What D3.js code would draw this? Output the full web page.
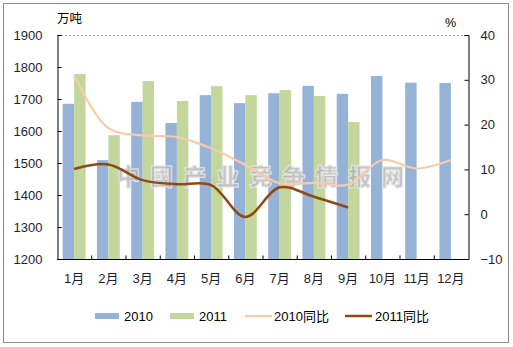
<!DOCTYPE html>
<html>
<head>
<meta charset="utf-8">
<script src="https://cdn.jsdelivr.net/npm/d3@7/dist/d3.min.js"></script>
<style>
  html, body { margin: 0; padding: 0; background: #fff; }
  svg { display: block; font-family: "Liberation Sans", Arial, "Noto Sans CJK SC", sans-serif; }
</style>
</head>
<body>
<script>
// Monthly output (万吨) and year-on-year growth (%)
const months = ["1月","2月","3月","4月","5月","6月","7月","8月","9月","10月","11月","12月"];
const output2010 = [1685, 1509, 1691, 1625, 1712, 1687, 1718, 1741, 1716, 1772, 1751, 1750];
const output2011 = [1778, 1587, 1756, 1694, 1740, 1712, 1728, 1709, 1628];
const yoy2010 = [31.0, 19.2, 17.6, 17.2, 14.7, 11.0, 6.9, 7.0, 6.6, 12.1, 10.2, 12.1];
const yoy2011 = [10.1, 11.1, 7.6, 6.7, 6.5, -0.6, 6.0, 3.9, 1.5];
const leftTicks = [1200, 1300, 1400, 1500, 1600, 1700, 1800, 1900];
const rightTicks = [-10, 0, 10, 20, 30, 40];
const seriesNames = ["2010", "2011", "2010同比", "2011同比"];

const W = 513, H = 347;
const M = { left: 57, right: 468, top: 35, bottom: 259 };
const colors = { b2010: "#95B3D7", b2011: "#C3D69B", l2010: "#F8CBAD", l2011: "#8E4A12" };

const svg = d3.select("body").append("svg").attr("width", W).attr("height", H);

// outer frame
svg.append("rect").attr("x", 3.5).attr("y", 3.5).attr("width", 505).attr("height", 339)
  .attr("fill", "#fff").attr("stroke", "#8c8c8c").attr("stroke-width", 1);

const x = d3.scaleBand().domain(months).range([M.left, M.right]).padding(0);
const xs = d3.scaleBand().domain(["2010", "2011"]).range([0, x.bandwidth()]).paddingInner(0).paddingOuter(0.5);
const yL = d3.scaleLinear().domain([1200, 1900]).range([M.bottom, M.top]);
const yR = d3.scaleLinear().domain([-10, 40]).range([M.bottom, M.top]);

// dashed top gridline
svg.append("line").attr("x1", M.left).attr("x2", M.right)
  .attr("y1", yL(1900) + 0.5).attr("y2", yL(1900) + 0.5)
  .attr("stroke", "#aaa").attr("stroke-dasharray", "2,2");

// bars
const bars = svg.append("g");
bars.selectAll("rect.b2010").data(output2010).join("rect")
  .attr("x", (d, i) => x(months[i]) + xs("2010"))
  .attr("width", xs.bandwidth())
  .attr("y", d => yL(d)).attr("height", d => yL(1200) - yL(d))
  .attr("fill", colors.b2010);
bars.selectAll("rect.b2011").data(output2011).join("rect")
  .attr("x", (d, i) => x(months[i]) + xs("2011"))
  .attr("width", xs.bandwidth())
  .attr("y", d => yL(d)).attr("height", d => yL(1200) - yL(d))
  .attr("fill", colors.b2011);

// watermark
svg.append("text").attr("x", 117).attr("y", 185)
  .attr("font-size", 23).attr("font-weight", "900")
  .attr("font-family", "'Noto Sans CJK SC', sans-serif")
  .attr("letter-spacing", 10)
  .attr("fill", "#b4b4b4").attr("fill-opacity", 0.8)
  .attr("stroke", "#e6e6e6").attr("stroke-width", 1)
  .text("中國产业竞争情报网");

// growth lines
const line = d3.line()
  .x((d, i) => x(months[i]) + x.bandwidth() / 2)
  .y(d => yR(d))
  .curve(d3.curveCatmullRom.alpha(0.5));
svg.append("path").attr("d", line(yoy2010)).attr("fill", "none")
  .attr("stroke", colors.l2010).attr("stroke-width", 2.2);
svg.append("path").attr("d", line(yoy2011)).attr("fill", "none")
  .attr("stroke", colors.l2011).attr("stroke-width", 2.5);

// axes
const axisL = d3.axisLeft(yL).tickValues(leftTicks).tickFormat(d3.format("d")).tickSize(-4).tickPadding(15);
const gL = svg.append("g").attr("transform", `translate(${M.left + 0.5},0)`).call(axisL);
const axisR = d3.axisRight(yR).tickValues(rightTicks).tickFormat(d3.format("d")).tickSize(-4).tickPadding(12);
const gR = svg.append("g").attr("transform", `translate(${M.right + 0.5},0)`).call(axisR);
const axisB = d3.axisBottom(x).tickSize(0).tickPadding(14);
const gB = svg.append("g").attr("transform", `translate(0,${M.bottom + 0.5})`).call(axisB);

[gL, gR, gB].forEach(g => {
  g.select(".domain").attr("stroke", "#000");
  g.selectAll(".tick line").attr("stroke", "#000");
  g.selectAll("text").attr("font-size", 13).attr("fill", "#1e1e2e")
    .attr("font-family", "'Liberation Sans', Arial, 'Noto Sans CJK SC', sans-serif");
});
gB.select(".domain").attr("d", `M${M.left},0H${M.right}`);

// category separator ticks on the bottom axis
gB.selectAll("line.sep").data(months.slice(1)).join("line")
  .attr("class", "sep")
  .attr("x1", d => x(d) + 0.5).attr("x2", d => x(d) + 0.5)
  .attr("y1", 0).attr("y2", -4).attr("stroke", "#000");

// unit labels
svg.append("text").attr("x", 57).attr("y", 23).attr("font-size", 12.5)
  .attr("font-family", "'Noto Sans CJK SC', sans-serif").attr("fill", "#000").text("万吨");
svg.append("text").attr("x", 445).attr("y", 27).attr("font-size", 12.5)
  .attr("fill", "#000").text("%");

// legend
const lg = svg.append("g").attr("font-size", 13).attr("fill", "#000");
const legendItems = [
  { name: seriesNames[0], type: "rect", color: colors.b2010, x0: 95, tx: 124 },
  { name: seriesNames[1], type: "rect", color: colors.b2011, x0: 170, tx: 199 },
  { name: seriesNames[2], type: "line", color: colors.l2010, x0: 245, tx: 274 },
  { name: seriesNames[3], type: "line", color: colors.l2011, x0: 345, tx: 375 }
];
const ly = 316;
legendItems.forEach(it => {
  if (it.type === "rect") {
    lg.append("rect").attr("x", it.x0).attr("y", ly - 3).attr("width", 24).attr("height", 6)
      .attr("fill", it.color);
  } else {
    lg.append("line").attr("x1", it.x0).attr("x2", it.x0 + 27).attr("y1", ly).attr("y2", ly)
      .attr("stroke", it.color).attr("stroke-width", it.name === "2011同比" ? 2.5 : 2.2);
  }
  lg.append("text").attr("x", it.tx).attr("y", ly + 4.5)
    .attr("font-family", "'Liberation Sans', Arial, 'Noto Sans CJK SC', sans-serif")
    .text(it.name);
});
</script>
</body>
</html>
